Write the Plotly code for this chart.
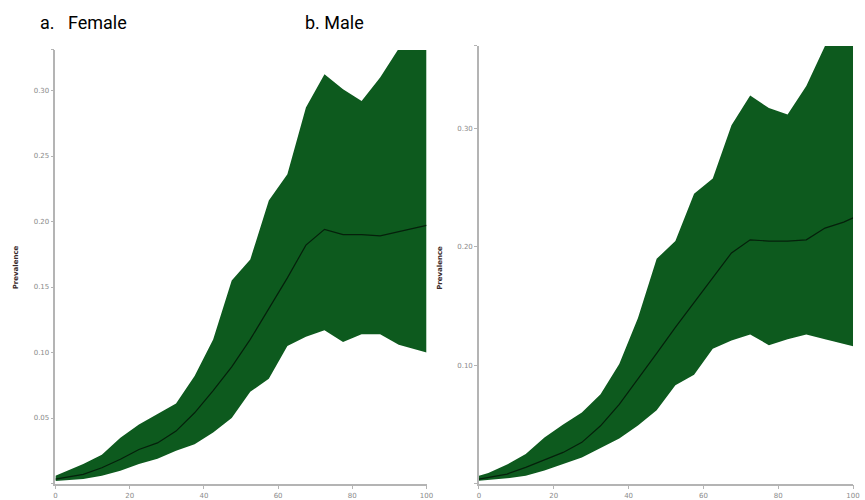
import plotly.graph_objects as go

# age (x) grid
ages = [0, 2.5, 7.5, 12.5, 17.5, 22.5, 27.5, 32.5, 37.5, 42.5, 47.5, 52.5,
        57.5, 62.5, 67.5, 72.5, 77.5, 82.5, 87.5, 92.5, 97.5, 100]

female_mean = [0.0034, 0.0045, 0.007, 0.012, 0.0185, 0.026, 0.031, 0.040, 0.054, 0.071, 0.089, 0.110,
               0.133, 0.157, 0.182, 0.194, 0.190, 0.190, 0.189, 0.192, 0.195, 0.197]
female_upper = [0.006, 0.009, 0.015, 0.022, 0.035, 0.045, 0.053, 0.061, 0.082, 0.110, 0.155, 0.171,
                0.216, 0.236, 0.287, 0.3125, 0.301, 0.292, 0.310, 0.332, 0.345, 0.350]
female_lower = [0.002, 0.0025, 0.0035, 0.006, 0.0098, 0.015, 0.019, 0.025, 0.030, 0.039, 0.050, 0.070,
                0.080, 0.105, 0.112, 0.117, 0.108, 0.114, 0.114, 0.106, 0.102, 0.100]

male_mean = [0.0038, 0.005, 0.008, 0.0137, 0.0198, 0.0263, 0.0348, 0.0488, 0.067, 0.088, 0.110, 0.132,
             0.153, 0.175, 0.195, 0.206, 0.205, 0.205, 0.206, 0.216, 0.221, 0.2246]
male_upper = [0.0066, 0.009, 0.016, 0.025, 0.039, 0.050, 0.060, 0.0755, 0.101, 0.140, 0.190, 0.205,
              0.245, 0.258, 0.303, 0.328, 0.3175, 0.312, 0.336, 0.370, 0.390, 0.400]
male_lower = [0.0024, 0.003, 0.0044, 0.0066, 0.011, 0.0165, 0.022, 0.030, 0.038, 0.049, 0.062, 0.083,
              0.092, 0.114, 0.121, 0.126, 0.117, 0.122, 0.126, 0.122, 0.118, 0.116]

x_ticks = [0, 20, 40, 60, 80, 100]
female_yticks = [0, 0.05, 0.10, 0.15, 0.20, 0.25, 0.30, 0.331]
female_yticktext = ["", "0.05", "0.10", "0.15", "0.20", "0.25", "0.30", ""]
male_yticks = [0, 0.10, 0.20, 0.30, 0.370]
male_yticktext = ["", "0.10", "0.20", "0.30", ""]

panel_titles = ["a.&nbsp;&nbsp;&nbsp;Female", "b. Male"]
y_title = "Prevalence"

FILL = "#0d5a1e"
AXIS = "#b4b4b4"
TICKFONT = dict(family="DejaVu Sans", size=7, color="#8a8a8a")

fig = go.Figure()

def add_panel(xa, ya, lower, upper, mean):
    fig.add_trace(go.Scatter(x=ages, y=lower, mode="lines", line=dict(width=0, color=FILL),
                             xaxis=xa, yaxis=ya, showlegend=False, hoverinfo="skip"))
    fig.add_trace(go.Scatter(x=ages, y=upper, mode="lines", line=dict(width=0, color=FILL),
                             fill="tonexty", fillcolor=FILL,
                             xaxis=xa, yaxis=ya, showlegend=False, hoverinfo="skip"))
    fig.add_trace(go.Scatter(x=ages, y=mean, mode="lines", line=dict(width=1.2, color="#05200b"),
                             xaxis=xa, yaxis=ya, showlegend=False))

add_panel("x", "y", female_lower, female_upper, female_mean)
add_panel("x2", "y2", male_lower, male_upper, male_mean)

W, H = 865, 500
def fx(px):
    return px / W
def fy(py):
    return (H - py) / H

common_x = dict(range=[0, 100], tickvals=x_ticks, ticks="outside", ticklen=4, tickwidth=1,
                tickcolor=AXIS, showline=True, linecolor=AXIS, linewidth=1.5, showgrid=False,
                zeroline=False, tickfont=TICKFONT, fixedrange=True)
common_y = dict(ticks="outside", ticklen=3, tickwidth=1, tickcolor=AXIS, showline=True,
                linecolor=AXIS, linewidth=1.5, showgrid=False, zeroline=False,
                tickfont=TICKFONT, fixedrange=True)

fig.update_layout(
    width=W, height=H,
    margin=dict(l=0, r=0, t=0, b=0),
    paper_bgcolor="white", plot_bgcolor="white",
    xaxis=dict(domain=[fx(54), fx(429)], anchor="y", **common_x),
    yaxis=dict(domain=[fy(484.5), fy(50)], anchor="x", range=[0, 0.331],
               tickvals=female_yticks, ticktext=female_yticktext, **common_y),
    xaxis2=dict(domain=[fx(482), fx(860)], anchor="y2", **common_x),
    yaxis2=dict(domain=[fy(484.5), fy(46)], anchor="x2", range=[0, 0.370],
                tickvals=male_yticks, ticktext=male_yticktext, **common_y),
)

title_font = dict(family="Roboto, sans-serif", size=18, color="black")
fig.add_annotation(x=fx(36), y=fy(23), xref="paper", yref="paper", text=panel_titles[0],
                   showarrow=False, xanchor="left", yanchor="middle", font=title_font)
fig.add_annotation(x=fx(304), y=fy(23), xref="paper", yref="paper", text=panel_titles[1],
                   showarrow=False, xanchor="left", yanchor="middle", font=title_font)

ylab_font = dict(family="DejaVu Sans", size=7, color="#3a2a2a")
fig.add_annotation(x=fx(15), y=fy(268), xref="paper", yref="paper", text="<b>" + y_title + "</b>",
                   textangle=-90, showarrow=False, xanchor="center", yanchor="middle", font=ylab_font)
fig.add_annotation(x=fx(443), y=fy(268), xref="paper", yref="paper", text="<b>" + y_title + "</b>",
                   textangle=-90, showarrow=False, xanchor="center", yanchor="middle", font=ylab_font)

fig.write_html("out.html", config={"displayModeBar": False},
               post_script="document.body.style.margin='0';document.body.style.overflow='hidden';")
